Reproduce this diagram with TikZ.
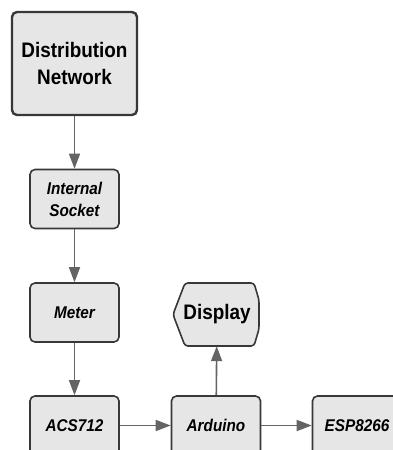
\documentclass[tikz,border=0pt]{standalone}
\usepackage{fontspec}
\setmainfont{Liberation Sans}
\newfontfamily\condfont[FakeStretch=0.9]{Liberation Sans}
\usetikzlibrary{arrows.meta}
\definecolor{boxfill}{HTML}{E6E6E6}
\definecolor{boxline}{HTML}{383838}
\definecolor{flowline}{HTML}{646464}
\begin{document}
\begin{tikzpicture}[x=1pt,y=-1pt,
block/.style={draw=boxline, fill=boxfill, line width=1.6pt, rounded corners=5pt,
  minimum width=89pt, minimum height=59pt, align=center, inner sep=0pt,
  font=\condfont\fontsize{17}{22}\selectfont\bfseries\itshape},
bigblock/.style={block, line width=2.4pt, minimum width=125pt, minimum height=103pt,
  font=\condfont\fontsize{21}{27}\selectfont\bfseries},
flow/.style={draw=flowline, line width=1.6pt, -{Triangle[length=15pt,width=11pt]}}]
\useasboundingbox (0,0) rectangle (393,450);
\clip (0,0) rectangle (393,450);
\fill[white] (0,0) rectangle (393,450);
\node[bigblock] (dist) at (74.5,63.5) {Distribution\\Network};
\node[block] (sock) at (74.5,199) {Internal\\Socket};
\node[block] (meter) at (74.5,312.5) {Meter};
\node[block] (acs) at (74.5,425.5) {ACS712};
\node[block] (ard) at (216,425.5) {Arduino};
\node[block] (esp) at (357,425.5) {ESP8266};
\draw[draw=boxline, fill=boxfill, line width=1.6pt, rounded corners=3pt]
  (173,314.5) -- (185,283) -- (254,283) -- (259,300) -- (259,329) -- (254,346) -- (185,346) -- cycle;
\node[font=\condfont\fontsize{21}{27}\selectfont\bfseries, minimum width=86pt, minimum height=63pt, inner sep=0pt] (disp) at (217,314.5) {Display};
\foreach \a/\b in {dist/sock,sock/meter,meter/acs}
{
\draw[flow] (\a) -- (\b);
}
\draw[flow] (acs) -- (ard);
\draw[flow] (ard) -- (esp);
\draw[flow] (ard) -- (disp);
\end{tikzpicture}
\end{document}
